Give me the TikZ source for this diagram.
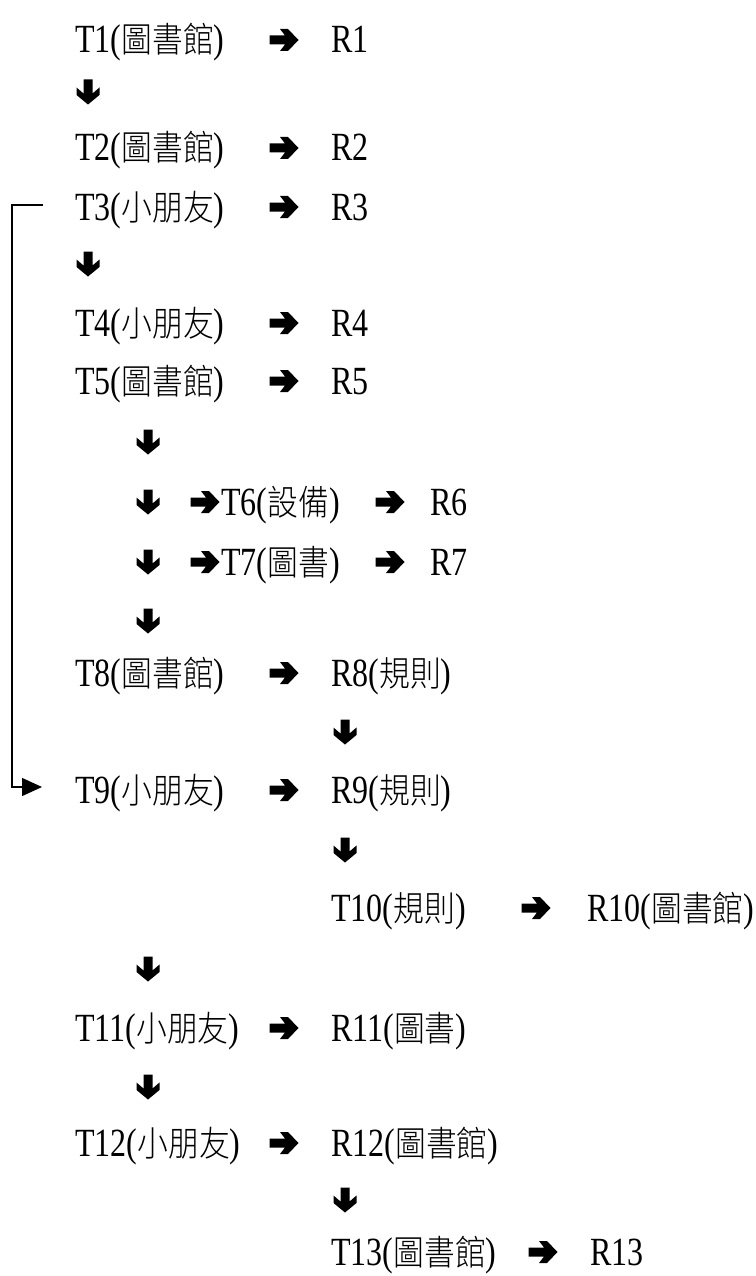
\documentclass[tikz,border=0pt]{standalone}
\usepackage{fontspec}
\setmainfont{Liberation Serif}[FakeStretch=0.8]
\newfontfamily\cjkfont{Noto Sans CJK TC Light}[FakeStretch=0.88]
\newcommand\ZH[1]{{\cjkfont\fontsize{35}{40}\selectfont #1}}
\usetikzlibrary{arrows.meta}
\tikzset{
  lbl/.style={anchor=base west, inner sep=0pt, font=\fontsize{40}{48}\selectfont},
  conn/.style={line width=1.3pt, -{Triangle[length=20pt,width=18pt]}},
  rarr/.pic={\fill (-14.5,-4.5) -- (1,-4.5) -- (-4,-11) -- (4,-11) -- (14.5,0) -- (4,11) -- (-4,11) -- (1,4.5) -- (-14.5,4.5) -- cycle;},
  darr/.pic={\fill (-4.5,-12.5) -- (-4.5,1.5) -- (-11.5,-4.5) -- (-11.5,3) -- (0,12.5) -- (11.5,3) -- (11.5,-4.5) -- (4.5,1.5) -- (4.5,-12.5) -- cycle;}
}
\begin{document}
\begin{tikzpicture}[x=1pt,y=-1pt]
\useasboundingbox (0,0) rectangle (755,1276);
% row T1
\node[lbl] (t1) at (75,53) {T1(\ZH{圖書館})};
\pic at (284,40) {rarr};
\node[lbl] (r1) at (331,53) {R1};
\pic at (88,92) {darr};
% T2
\node[lbl] (t2) at (75,161) {T2(\ZH{圖書館})};
\pic at (284,148) {rarr};
\node[lbl] (r2) at (331,161) {R2};
% T3
\node[lbl] (t3) at (75,220) {T3(\ZH{小朋友})};
\pic at (284,207) {rarr};
\node[lbl] (r3) at (331,220) {R3};
\pic at (88,264) {darr};
% T4
\node[lbl] (t4) at (75,336) {T4(\ZH{小朋友})};
\pic at (284,323) {rarr};
\node[lbl] (r4) at (331,336) {R4};
% T5
\node[lbl] (t5) at (75,394) {T5(\ZH{圖書館})};
\pic at (284,381) {rarr};
\node[lbl] (r5) at (331,394) {R5};
\pic at (148,442) {darr};
% T6
\pic at (148,502) {darr};
\pic at (205,502) {rarr};
\node[lbl] (t6) at (221,515) {T6(\ZH{設備})};
\pic at (390,502) {rarr};
\node[lbl] (r6) at (430,515) {R6};
% T7
\pic at (148,562) {darr};
\pic at (205,562) {rarr};
\node[lbl] (t7) at (221,575) {T7(\ZH{圖書})};
\pic at (390,562) {rarr};
\node[lbl] (r7) at (430,575) {R7};
\pic at (148,621) {darr};
% T8
\node[lbl] (t8) at (75,686) {T8(\ZH{圖書館})};
\pic at (284,673) {rarr};
\node[lbl] (r8) at (331,686) {R8(\ZH{規則})};
\pic at (345,732) {darr};
% T9
\node[lbl] (t9) at (75,803) {T9(\ZH{小朋友})};
\pic at (284,790) {rarr};
\node[lbl] (r9) at (331,803) {R9(\ZH{規則})};
\pic at (345,850) {darr};
% T10
\node[lbl] (t10) at (331,921) {T10(\ZH{規則})};
\pic at (536,908) {rarr};
\node[lbl] (r10) at (587,921) {R10(\ZH{圖書館})};
\pic at (148,969) {darr};
% T11
\node[lbl] (t11) at (75,1041) {T11(\ZH{小朋友})};
\pic at (284,1028) {rarr};
\node[lbl] (r11) at (331,1041) {R11(\ZH{圖書})};
\pic at (148,1087) {darr};
% T12
\node[lbl] (t12) at (75,1156) {T12(\ZH{小朋友})};
\pic at (284,1143) {rarr};
\node[lbl] (r12) at (331,1156) {R12(\ZH{圖書館})};
\pic at (345,1200) {darr};
% T13
\node[lbl] (t13) at (331,1265) {T13(\ZH{圖書館})};
\pic at (543,1252) {rarr};
\node[lbl] (r13) at (590,1265) {R13};
% bracket connector T3 -> T9
\draw[conn] ([xshift=-32pt,yshift=15pt]t3.base west) -- ++(-31,0) |- ([xshift=-33pt,yshift=16pt]t9.base west);
\end{tikzpicture}
\end{document}
